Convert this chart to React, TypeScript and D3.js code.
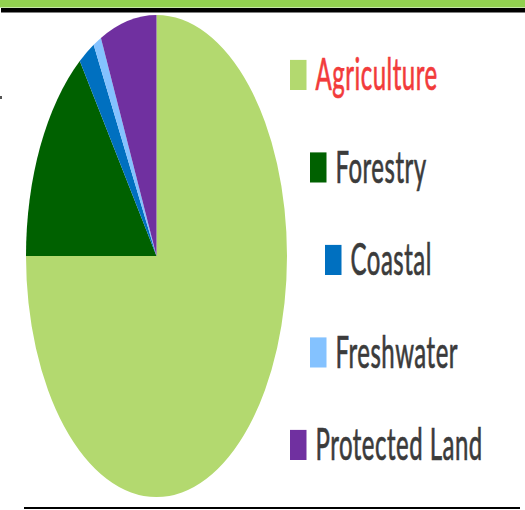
import { useRef, useEffect } from 'react'
import * as d3 from 'd3'

const categories = ['Agriculture', 'Forestry', 'Coastal', 'Freshwater', 'Protected Land']
const shares = [75, 15, 2, 1, 7]
const colors = ['#b3d96f', '#006100', '#0070c0', '#84c2ff', '#7030a0']
const labelColors = ['#f23b3b', '#3b3b3b', '#3b3b3b', '#3b3b3b', '#3b3b3b']

const App = () => {
  const ref = useRef<SVGSVGElement>(null)

  useEffect(() => {
    if (!ref.current) return
    const svg = d3.select(ref.current)
    svg.selectAll('*').remove()
    const width = 525
    const height = 510
    const stretch = 1.847
    svg.attr('width', width).attr('height', height)

    // header strip
    svg.append('rect').attr('x', 0).attr('y', 0).attr('width', width).attr('height', 7.5).attr('fill', '#92d050')
    svg.append('rect').attr('x', 1).attr('y', 8).attr('width', width - 1).attr('height', 4.5).attr('fill', '#000')
    svg.append('rect').attr('x', 0).attr('y', 96).attr('width', 2).attr('height', 3).attr('fill', '#555')

    const data = categories.map((c, i) => ({ name: c, value: shares[i], color: colors[i] }))
    const pie = d3.pie<{ name: string; value: number; color: string }>().sort(null).value(d => d.value)
    const radius = 130.5
    const arc = d3.arc<d3.PieArcDatum<{ name: string; value: number; color: string }>>()
      .innerRadius(0)
      .outerRadius(radius)

    const g = svg.append('g').attr('transform', `translate(156.5,256) scale(1,${stretch})`)
    g.selectAll('path')
      .data(pie(data))
      .enter()
      .append('path')
      .attr('d', arc)
      .attr('fill', d => d.data.color)

    // legend, staggered along the pie edge
    const indent = [0, 20, 35, 20, 0]
    const y = d3.scaleLinear().domain([0, categories.length - 1]).range([90, 460])
    const legend = svg.selectAll('.item')
      .data(data)
      .enter()
      .append('g')
      .attr('class', 'item')
      .attr('transform', (d, i) => `translate(${290 + indent[i]},${y(i)}) scale(1,${stretch})`)
    legend.append('rect')
      .attr('x', 0)
      .attr('y', -16.3)
      .attr('width', 16.5)
      .attr('height', 16.3)
      .attr('fill', d => d.color)
    legend.append('text')
      .attr('x', 25.5)
      .attr('y', 0)
      .attr('font-family', 'Lato, sans-serif')
      .attr('font-size', 24)
      .attr('letter-spacing', 0.5)
      .attr('stroke', (d, i) => labelColors[i])
      .attr('stroke-width', 0.4)
      .attr('fill', (d, i) => labelColors[i])
      .text(d => d.name)

    svg.append('rect').attr('x', 24).attr('y', 507).attr('width', 496).attr('height', 2).attr('fill', '#000')
  }, [])

  return <svg ref={ref} style={{ position: 'absolute', left: 0, top: 0 }} />
}

export default App
